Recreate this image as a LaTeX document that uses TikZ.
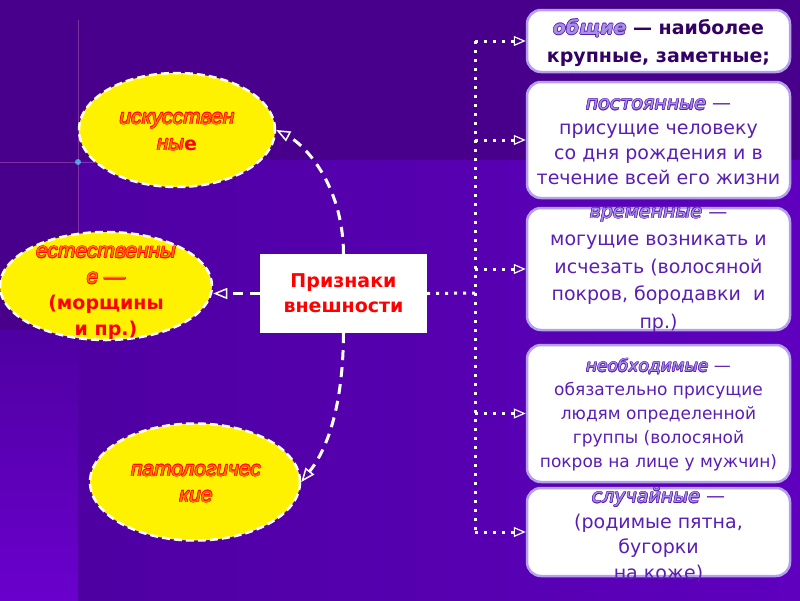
\documentclass[tikz,border=0pt]{standalone}
\usepackage{fontspec}
\setmainfont{DejaVu Sans}
\newfontfamily\arialfont{Liberation Sans}
\usepackage[copies]{contour}
\contourlength{0.6pt}
\contournumber{8}
\usetikzlibrary{arrows.meta,shapes.geometric,positioning}

\definecolor{bgdark}{HTML}{48008C}
\definecolor{bgmid}{HTML}{4E00A2}
\definecolor{bglight}{HTML}{5E00BE}
\definecolor{bgstrip}{HTML}{6A00CC}
\definecolor{boxtext}{HTML}{5A1EB4}
\definecolor{boxdark}{HTML}{330066}
\definecolor{boxline}{HTML}{B4A0EC}
\definecolor{lavender}{HTML}{A890E4}
\definecolor{ovalorange}{HTML}{FF7A00}

% kursive Woerter mit Kontur
\newcommand{\ovalw}[1]{{\color{ovalorange}\contour{red}{#1}}}
\newcommand{\boxw}[1]{{\color{lavender}\contour{boxtext}{\itshape #1}}}
\newcommand{\redbold}[1]{{\normalfont\bfseries\fontsize{19}{27}\selectfont\color{red}#1}}

\tikzset{
  oval/.style={ellipse, draw=white, fill=yellow, line width=2.5pt,
    dash pattern=on 8pt off 4pt, inner sep=0pt},
  ovaltext/.style={align=center, font=\arialfont\itshape\fontsize{21}{26}\selectfont},
  infobox/.style={draw=boxline, fill=white, line width=2.5pt, rounded corners=14pt,
    inner sep=0pt, minimum width=263pt},
  infotext/.style={align=center, text=boxtext, font=\fontsize{19}{26}\selectfont},
  dashline/.style={white, line width=3pt, dash pattern=on 10pt off 7pt,
    -{Triangle[open, length=14pt, width=11pt, line width=1.5pt]}},
  dotline/.style={white, line width=3pt, dash pattern=on 3pt off 6pt},
  dotarrow/.style={dotline, -{Triangle[open, length=12pt, width=10pt, line width=1.2pt]}},
}

\begin{document}
\begin{tikzpicture}[x=1pt,y=-1pt]
\useasboundingbox (0,0) rectangle (800,600);

% Hintergrund
\fill[bgdark] (0,0) rectangle (800,600);
\shade[left color=bgmid, right color=bglight] (78,160) rectangle (800,600);
\shade[top color=bgmid, bottom color=bgstrip] (0,330) rectangle (78,600);
\draw[violet!60!white, line width=0.8pt, opacity=0.5] (78,20) -- (78,240);
\draw[violet!60!white, line width=0.8pt, opacity=0.5] (0,162) -- (100,162);
\fill[cyan!70, opacity=0.8] (78,162) circle (3pt);

% Ovale links
\node[oval, minimum width=196pt, minimum height=114pt] (art) at (177,130) {};
\node[ovaltext] (artt) at (177,132) {\ovalw{искусствен}\\\ovalw{ны}\redbold{е}};

\node[oval, minimum width=212pt, minimum height=108pt] (nat) at (106,286) {};
\node[ovaltext] (natt) at (106,293)
  {\ovalw{естественны}\\\ovalw{е —}\\\redbold{(морщины}\\\redbold{и пр.)}};

\node[oval, minimum width=210pt, minimum height=117pt] (path) at (195,482) {};
\node[ovaltext] (patht) at (196,484) {\ovalw{патологичес}\\\ovalw{кие}};

% Mitte
\node[fill=white, minimum width=167pt, minimum height=79pt, inner sep=0pt,
  align=center, text=red, font=\bfseries\fontsize{19}{25}\selectfont]
  (sign) at (343.5,293.5) {Признаки\\внешности};

% Kaesten rechts
\node[infobox, minimum height=62pt]  (common)    at (658.5,41)  {};
\node[infobox, minimum height=116pt] (permanent) at (658.5,140) {};
\node[infobox, minimum height=122pt] (temporary) at (658.5,269) {};
\node[infobox, minimum height=137pt] (required)  at (658.5,413.5) {};
\node[infobox, minimum height=88pt]  (random)    at (658.5,532) {};

\node[infotext, text=boxdark, font=\bfseries\fontsize{19}{28}\selectfont] (commont) at (658.5,43)
  {\boxw{общие} — наиболее\\крупные, заметные;};
\node[infotext, font=\fontsize{19}{25}\selectfont] (permanentt) at (658.5,142)
  {\boxw{постоянные} —\\присущие человеку\\со дня рождения и в\\течение всей его жизни};
\node[infotext, font=\fontsize{19}{27.5}\selectfont] (temporaryt) at (658.5,270)
  {\boxw{временные} —\\могущие возникать и\\исчезать (волосяной\\покров, бородавки\ \ и\\пр.)};
\node[infotext, font=\fontsize{17}{24}\selectfont] (requiredt) at (658.5,415)
  {\boxw{необходимые} —\\обязательно присущие\\людям определенной\\группы (волосяной\\покров на лице у мужчин)};
\node[infotext, font=\fontsize{19}{25.5}\selectfont] (randomt) at (658.5,535)
  {\boxw{случайные} —\\(родимые пятна,\\бугорки\\на коже)};

% Verbindungen
\draw[dashline] (sign.north) .. controls (343,185) and (305,145) .. (art.east);
\draw[dashline] (sign.south) .. controls (343,405) and (328,448) .. (path.east);
\draw[dashline] (sign.west) -- (sign.west -| nat.east);

\coordinate (spine) at (475,293);
\draw[dotline] (sign.east) -- (spine);
\draw[dotline] (spine |- common.west) -- (spine |- random.west);
\foreach \b in {common,permanent,temporary,required,random}
  \draw[dotarrow] (spine |- \b.west) -- (\b.west);

\end{tikzpicture}
\end{document}
